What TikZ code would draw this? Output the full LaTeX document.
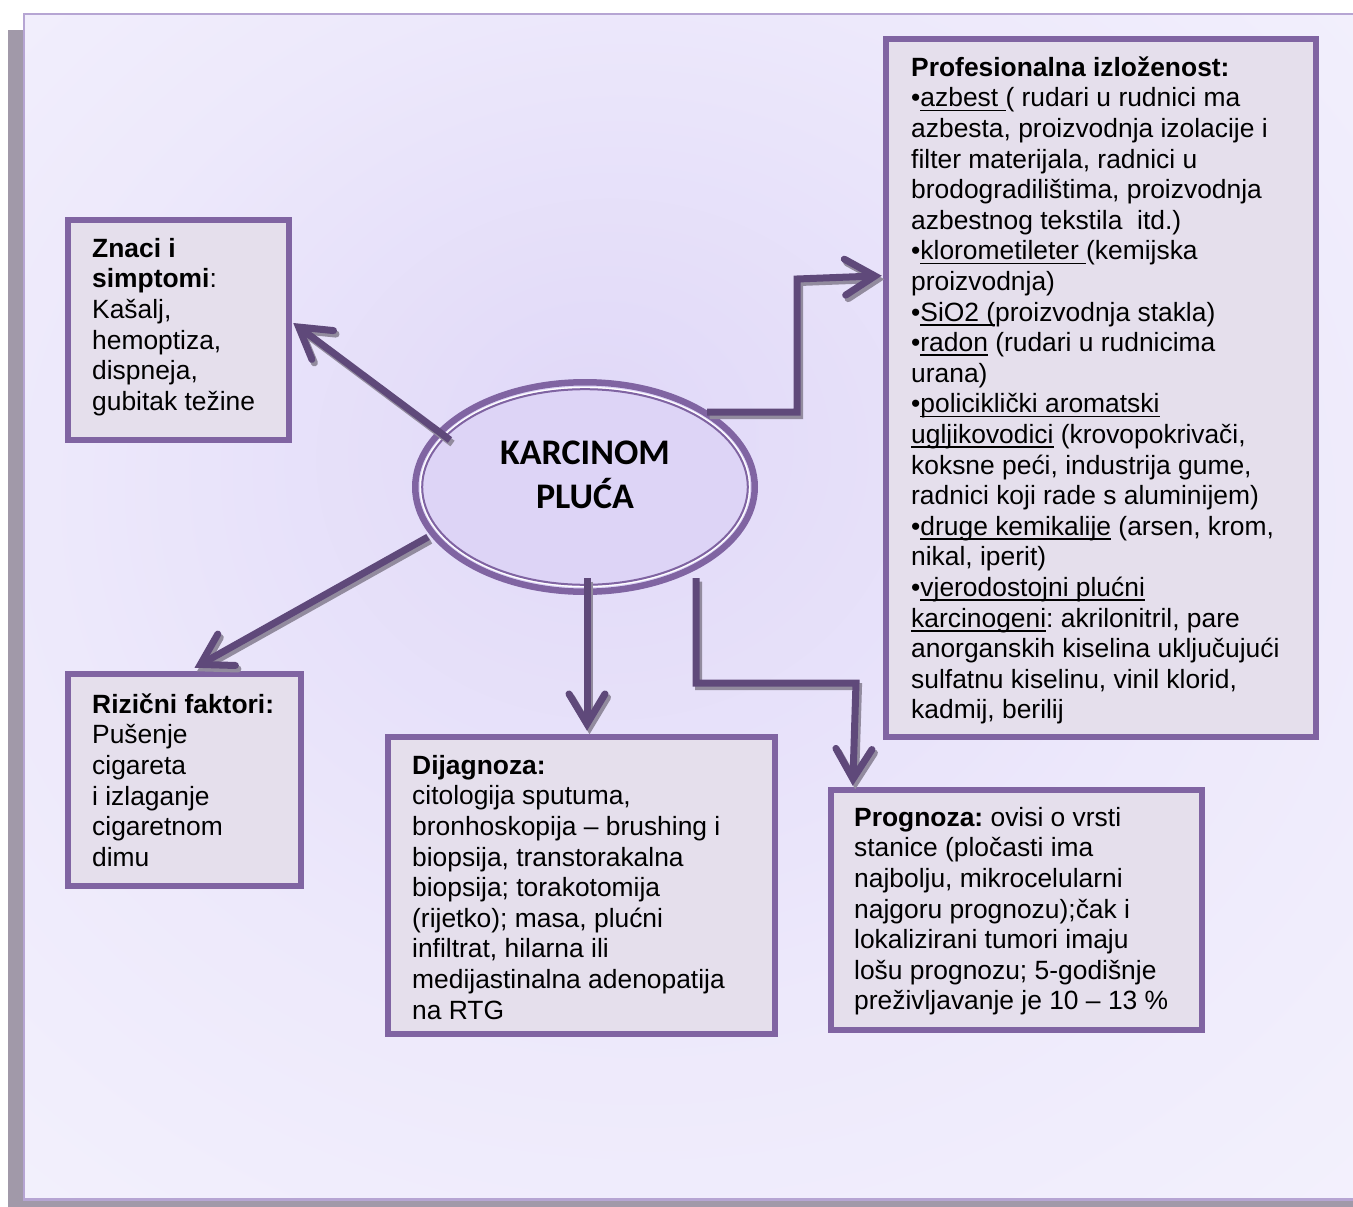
\documentclass[tikz,border=0pt]{standalone}
\usepackage{fontspec}
\setmainfont{Liberation Sans}
\newfontfamily\calib{Carlito}
\usetikzlibrary{arrows.meta,calc,shapes.geometric}
\definecolor{boxborder}{HTML}{8064A2}
\definecolor{boxfill}{HTML}{E5DFEC}
\definecolor{arrowcol}{HTML}{5F497A}
\definecolor{shadowcol}{HTML}{928B9E}
\definecolor{framecol}{HTML}{B6A5D3}
\definecolor{pageshadow}{HTML}{A199A9}
\definecolor{ellfill}{HTML}{DDD4F6}
\definecolor{bgA}{HTML}{E0D8F8}
\definecolor{bgB}{HTML}{EDE9FB}
\definecolor{bgC}{HTML}{F8F7FE}
\pgfdeclareradialshading{bgshade}{\pgfpoint{-4bp}{8bp}}{color(0bp)=(bgA); color(22bp)=(bgB); color(50bp)=(bgC)}
\newcommand{\ulx}[1]{\leavevmode\setbox0\hbox{#1}\rlap{\rule[-4.5pt]{\wd0}{1.8pt}}\box0\relax}
\newcommand{\twodraw}[1]{\draw[connshadow] #1; \draw[conn] #1;}
\frenchspacing
\tikzset{
  box/.style={draw=boxborder, line width=6.5pt, fill=boxfill, rectangle, inner sep=0pt},
  txt/.style={anchor=north west, inner sep=0pt, align=left, font=\fontsize{26.4}{30.6}\selectfont},
  conn/.style={draw=arrowcol, line width=7pt, -{Straight Barb[length=30pt,width=36pt,line cap=round]}},
  connshadow/.style={draw=shadowcol, line width=7pt, -{Straight Barb[length=30pt,width=36pt,line cap=round]}, transform canvas={xshift=2.5pt,yshift=-3.5pt}},
}
\begin{document}
\begin{tikzpicture}[x=1pt,y=-1pt]
\useasboundingbox (0,0) rectangle (1353,1207);
% page shadow and panel
\fill[pageshadow] (8,30) rectangle (24,1207);
\fill[pageshadow] (8,1200) rectangle (1353,1207);
\shade[shading=bgshade] (24,14) rectangle (1365,1199.5);
\draw[framecol, line width=2.5pt] (1365,14) -- (24,14) -- (24,1199.5) -- (1365,1199.5);

% boxes
\node[box, minimum width=221pt, minimum height=220pt] (znaci) at (178.5,330) {};
\node[box, minimum width=233pt, minimum height=212pt] (riz) at (184.5,780) {};
\node[box, minimum width=387pt, minimum height=297pt] (diag) at (581.5,885.5) {};
\node[box, minimum width=371pt, minimum height=240pt] (prog) at (1016.5,910) {};
\node[box, minimum width=430pt, minimum height=698pt] (prof) at (1101,388) {};

% ellipse
\node[ellipse, draw=boxborder, line width=6.5pt, fill=ellfill, inner sep=0pt,
      minimum width=339.5pt, minimum height=209.5pt] (ell) at (585,487) {};
\draw[white, line width=1.5pt] (ell.center) ellipse [x radius=164.5, y radius=99.5];
\draw[boxborder, line width=2pt] (ell.center) ellipse [x radius=162.8, y radius=97.8];
\node[font=\calib\bfseries\fontsize{36}{44}\selectfont, align=center, inner sep=0pt] (title) at (585,475) {KARCINOM\\PLUĆA};

% texts
\node[txt] (znaci-t) at (92,235) {\rule{0pt}{22pt}\textbf{Znaci i}\\ \textbf{simptomi}:\\ Kašalj,\\ hemoptiza,\\ dispneja,\\ gubitak težine};
\node[txt] (riz-t) at (92,691) {\rule{0pt}{22pt}\textbf{Rizični faktori:}\\ Pušenje\\ cigareta\\ i izlaganje\\ cigaretnom\\ dimu};
\node[txt] (diag-t) at (412,752) {\rule{0pt}{22pt}\textbf{Dijagnoza:}\\ citologija sputuma,\\ bronhoskopija – brushing i\\ biopsija, transtorakalna\\ biopsija; torakotomija\\ (rijetko); masa, plućni\\ infiltrat, hilarna ili\\ medijastinalna adenopatija\\ na RTG};
\node[txt] (prog-t) at (854,804) {\rule{0pt}{22pt}\textbf{Prognoza:} ovisi o vrsti\\ stanice (pločasti ima\\ najbolju, mikrocelularni\\ najgoru prognozu);čak i\\ lokalizirani tumori imaju\\ lošu prognozu; 5-godišnje\\ preživljavanje je 10 – 13 \%};
\begin{scope}
\clip (890,44) rectangle (1312,723);
\node[txt] (prof-t) at (911,54) {\rule{0pt}{22pt}\textbf{Profesionalna izloženost:}\\
•\ulx{azbest }( rudari u rudnici ma\\
azbesta, proizvodnja izolacije i\\
filter materijala, radnici u\\
brodogradilištima, proizvodnja\\
azbestnog tekstila\ \ itd.)\\
•\ulx{klorometileter }(kemijska\\
proizvodnja)\\
•\ulx{SiO2 (}proizvodnja stakla)\\
•\ulx{radon} (rudari u rudnicima\\
urana)\\
•\ulx{policiklički aromatski}\\
\ulx{ugljikovodici} (krovopokrivači,\\
koksne peći, industrija gume,\\
radnici koji rade s aluminijem)\\
•\ulx{druge kemikalije} (arsen, krom,\\
nikal, iperit)\\
•\ulx{vjerodostojni plućni}\\
\ulx{karcinogeni}: akrilonitril, pare\\
anorganskih kiselina uključujući\\
sulfatnu kiselinu, vinil klorid,\\
kadmij, berilij};
\end{scope}

% connectors
\coordinate (s1) at (450,440);
\coordinate (s2) at (428,537);
\coordinate (s3) at (587,578);
\coordinate (s4) at (696,578);
\coordinate (e4a) at (696,683);
\coordinate (e4b) at (856,683);
\coordinate (s5) at (707,412);
\coordinate (e5a) at (797,412);
\coordinate (e5b) at (797,279);

\twodraw{(s1) -- ($(znaci.east)+(1,-7)$)}
\twodraw{(s2) -- ($(riz.north)+(10,-3)$)}
\twodraw{(s3) -- ($(diag.north)+(5.5,-3)$)}
\twodraw{(s4) -- (e4a) -- (e4b) -- ($(prog.north west)+(25,-1)$)}
\twodraw{(s5) -- (e5a) -- (e5b) -- ($(prof.north west)+(-1,240)$)}
\end{tikzpicture}
\end{document}
